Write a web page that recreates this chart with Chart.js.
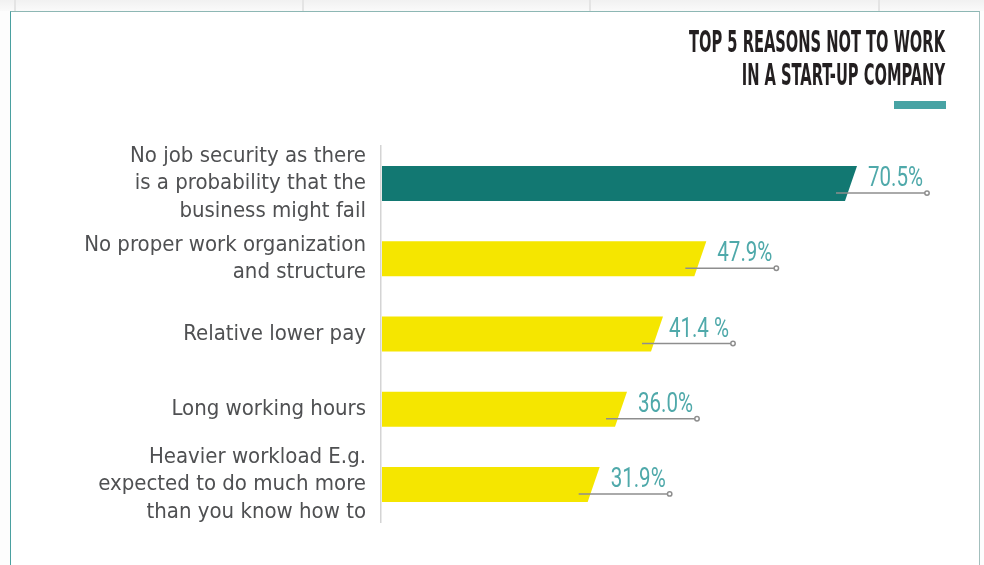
<!DOCTYPE html>
<html>
<head>
<meta charset="utf-8">
<script src="https://cdn.jsdelivr.net/npm/chart.js@4.4.1/dist/chart.umd.min.js"></script>
<style>
  html, body { margin: 0; padding: 0; background: #fdfdfd; }
  #page { position: relative; width: 984px; height: 565px; overflow: hidden; }
  .strip { position: absolute; left: 0; top: 0; width: 984px; height: 11px; background: linear-gradient(#f1f1f1, #fafafa); }
  .cut { position: absolute; top: 0; width: 2px; height: 11px; background: #e4e4e4; }
  .frame {
    position: absolute; left: 10px; top: 11px; width: 968px; height: 560px; background: #fff;
    border-top: 1.5px solid #8db7b4; border-left: 1.5px solid #4aa0a0; border-right: 1.5px solid #a3bfbd;
  }
  canvas { position: absolute; left: 0; top: 0; }
</style>
</head>
<body>
<div id="page">
  <div class="strip"></div>
  <div class="cut" style="left:14px"></div>
  <div class="cut" style="left:302px"></div>
  <div class="cut" style="left:589px"></div>
  <div class="cut" style="left:878px"></div>
  <div class="frame"></div>
  <canvas id="reasonsChart" width="984" height="565"></canvas>
</div>
<script>
const reasons = [
  ["No job security as there", "is a probability that the", "business might fail"],
  ["No proper work organization", "and structure"],
  "Relative lower pay",
  "Long working hours",
  ["Heavier workload E.g.", "expected to do much more", "than you know how to"],
];
const shares = [70.5, 47.9, 41.4, 36.0, 31.9];
const shareLabels = ["70.5%", "47.9%", "41.4 %", "36.0%", "31.9%"];
const barColors = ["#127872", "#f5e600", "#f5e600", "#f5e600", "#f5e600"];
const titleLines = ["TOP 5 REASONS NOT TO WORK", "IN A START-UP COMPANY"];

const NARROW = '"Liberation Sans Narrow", "DejaVu Sans Condensed", "Liberation Sans", sans-serif';

// bars with a slanted end, a leader line and the percentage on top of it
const slantBars = {
  id: "slantBars",
  beforeDatasetsDraw(chart) {
    const ctx = chart.ctx;
    const meta = chart.getDatasetMeta(0);
    ctx.save();
    ctx.font = "27px Roboto, " + NARROW;
    const squeeze = 55 / ctx.measureText(shareLabels[0]).width;
    ctx.restore();
    meta.data.forEach((bar, i) => {
      const top = bar.y - bar.height / 2;
      const bottom = bar.y + bar.height / 2;
      ctx.save();
      ctx.fillStyle = barColors[i];
      ctx.beginPath();
      ctx.moveTo(bar.base + 1, top);
      ctx.lineTo(bar.x + 6, top);
      ctx.lineTo(bar.x - 6, bottom);
      ctx.lineTo(bar.base + 1, bottom);
      ctx.closePath();
      ctx.fill();

      const ly = bottom - 8;
      ctx.strokeStyle = "#8e8e8e";
      ctx.lineWidth = 1.5;
      ctx.beginPath();
      ctx.moveTo(bar.x - 15, ly);
      ctx.lineTo(bar.x + 74, ly);
      ctx.stroke();
      ctx.beginPath();
      ctx.arc(bar.x + 76, ly, 2.2, 0, Math.PI * 2);
      ctx.fillStyle = "#fff";
      ctx.fill();
      ctx.stroke();

      ctx.fillStyle = "#4fa9aa";
      ctx.font = "27px Roboto, " + NARROW;
      ctx.textAlign = "right";
      ctx.textBaseline = "alphabetic";
      ctx.translate(bar.x + 72, ly - 7);
      ctx.scale(squeeze, 1);
      ctx.fillText(shareLabels[i], 0, 0);
      ctx.restore();
    });
    return false;
  },
};

// condensed heading in the top right corner with the little accent bar
const heading = {
  id: "heading",
  afterDraw(chart) {
    const ctx = chart.ctx;
    ctx.save();
    ctx.font = "bold 31px " + NARROW;
    const squeeze = 256 / ctx.measureText(titleLines[0]).width;
    ctx.fillStyle = "#231f20";
    ctx.textAlign = "right";
    ctx.textBaseline = "alphabetic";
    [52, 85].forEach((y, i) => {
      ctx.save();
      ctx.translate(945, y);
      ctx.scale(squeeze, 1);
      ctx.fillText(titleLines[i], 0, 0);
      ctx.restore();
    });
    ctx.fillStyle = "#47a3a4";
    ctx.fillRect(894, 101, 52, 8);
    ctx.restore();
  },
};

new Chart(document.getElementById("reasonsChart"), {
  type: "bar",
  data: {
    labels: reasons,
    datasets: [
      {
        data: shares,
        backgroundColor: barColors,
        barThickness: 35,
      },
    ],
  },
  options: {
    indexAxis: "y",
    responsive: false,
    animation: false,
    devicePixelRatio: 1,
    layout: { padding: { top: 146, bottom: 43, left: 0, right: 73 } },
    plugins: {
      legend: { display: false },
      tooltip: { enabled: false },
    },
    scales: {
      x: { display: false, min: 0, max: 79.5 },
      y: {
        grid: { display: false, drawTicks: false },
        border: { color: "#d4d4d4", width: 1.5 },
        ticks: {
          autoSkip: false,
          color: "#4f5052",
          padding: 15,
          font: { family: NARROW, size: 22, lineHeight: 1.25 },
        },
        afterFit(scale) {
          scale.width = 381;
          // the tall wrapped labels would otherwise push the plot area in
          scale.paddingTop = 0;
          scale.paddingBottom = 0;
        },
      },
    },
  },
  plugins: [slantBars, heading],
});
</script>
</body>
</html>
